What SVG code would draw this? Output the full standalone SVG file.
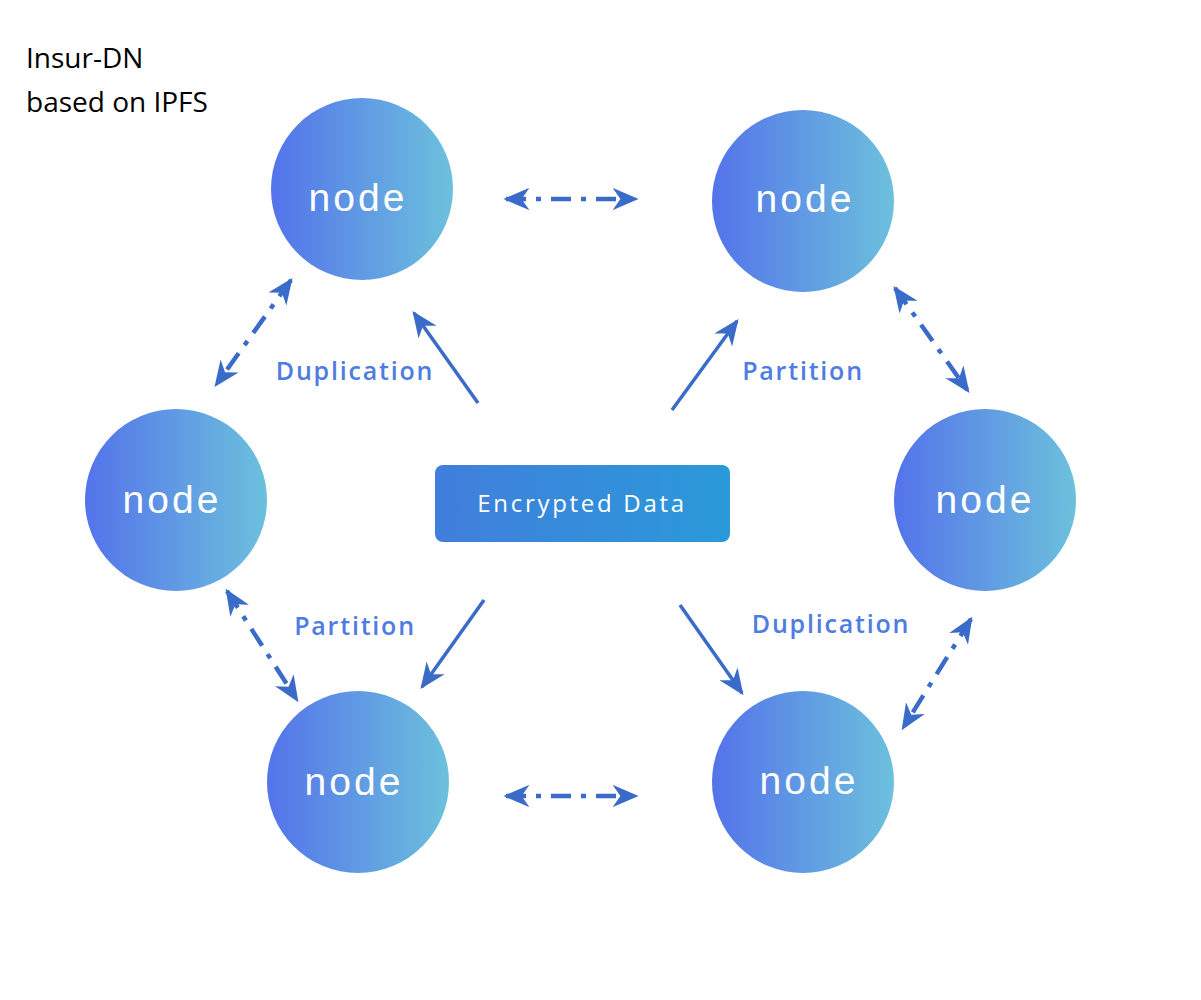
<svg xmlns="http://www.w3.org/2000/svg" width="1201" height="1000" viewBox="0 0 1201 1000">
<defs>
<linearGradient id="ng" x1="0" y1="0" x2="1" y2="0">
<stop offset="0" stop-color="#5473ea"/>
<stop offset="1" stop-color="#6cc1dd"/>
</linearGradient>
<linearGradient id="rg" x1="0" y1="0" x2="1" y2="0">
<stop offset="0" stop-color="#417edc"/>
<stop offset="1" stop-color="#2a9ad9"/>
</linearGradient>
<marker id="ah" viewBox="0 0 20 20" refX="18" refY="10" markerWidth="26" markerHeight="26" markerUnits="userSpaceOnUse" orient="auto-start-reverse">
<path d="M0,1.5 L20,10 L0,18.5 L6,10 Z" fill="#3a6bc9"/>
</marker>
</defs>
<style>
.node circle{fill:url(#ng)}
.node text{fill:#fff;font-family:"Liberation Sans",Arial,sans-serif;font-size:39px;letter-spacing:3px;text-anchor:middle}
.lbl{fill:#4e7ce2;font-family:"Open Sans","DejaVu Sans",sans-serif;font-size:25px;font-weight:600;letter-spacing:1.8px;text-anchor:middle}
.hd{fill:#000;font-family:"Open Sans","Noto Sans",sans-serif;font-size:28px}
.solid{stroke:#3a6bc9;stroke-width:3.5;fill:none;marker-end:url(#ah)}
.dd{stroke:#3a6bc9;stroke-width:4.5;fill:none;stroke-dasharray:20 10 5 10;marker-start:url(#ah);marker-end:url(#ah)}
</style>
<rect width="1201" height="1000" fill="#fff"/>
<text class="hd" x="26" y="68">Insur-DN</text>
<text class="hd" x="26" y="112">based on IPFS</text>

<g id="node-tl" class="node"><circle cx="362" cy="189" r="91"/><text x="358" y="211">node</text></g>
<g id="node-tr" class="node"><circle cx="803" cy="201" r="91"/><text x="805" y="212">node</text></g>
<g id="node-ml" class="node"><circle cx="176" cy="500" r="91"/><text x="172" y="513">node</text></g>
<g id="node-mr" class="node"><circle cx="985" cy="500" r="91"/><text x="985" y="513">node</text></g>
<g id="node-bl" class="node"><circle cx="358" cy="782" r="91"/><text x="354" y="795">node</text></g>
<g id="node-br" class="node"><circle cx="803" cy="782" r="91"/><text x="809" y="794">node</text></g>

<g id="data">
<rect x="435" y="465" width="295" height="77" rx="8" fill="url(#rg)"/>
<text x="582" y="512" fill="#fff" font-family="Open Sans, 'Noto Sans', sans-serif" font-size="24" letter-spacing="2.7" text-anchor="middle">Encrypted Data</text>
</g>

<g id="labels">
<text class="lbl" x="355" y="380">Duplication</text>
<text class="lbl" x="803" y="380">Partition</text>
<text class="lbl" x="355" y="635">Partition</text>
<text class="lbl" x="831" y="633">Duplication</text>
</g>

<g id="connectors">
<line class="dd" x1="506" y1="199" x2="636" y2="199"/>
<line class="dd" x1="506" y1="796" x2="636" y2="796"/>
<line class="dd" x1="291" y1="280" x2="216" y2="385"/>
<line class="dd" x1="895" y1="288" x2="968" y2="391"/>
<line class="dd" x1="227" y1="591" x2="297" y2="700"/>
<line class="dd" x1="971" y1="619" x2="903" y2="728"/>
<line class="solid" x1="478" y1="403" x2="414" y2="313"/>
<line class="solid" x1="672" y1="410" x2="737" y2="321"/>
<line class="solid" x1="484" y1="600" x2="422" y2="687"/>
<line class="solid" x1="680" y1="605" x2="742" y2="693"/>
</g>
</svg>
